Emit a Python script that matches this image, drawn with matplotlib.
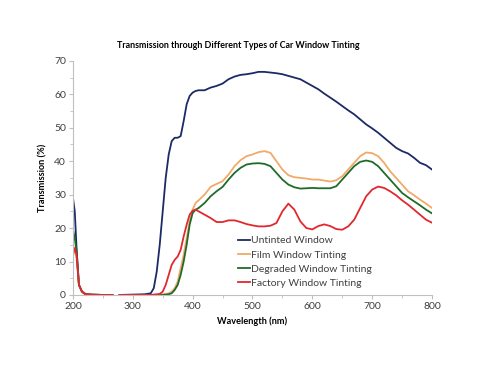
import numpy as np
import matplotlib.pyplot as plt
from matplotlib.ticker import MultipleLocator

plt.rcParams['font.family'] = ['Lato', 'DejaVu Sans']

# wavelength grid (nm); 272 is a gap in the measurement
wavelength = [200, 203, 206, 210, 215, 220, 230, 250, 266, 272, 278, 300, 320, 330,
              335, 340, 345, 350, 355, 360, 365, 370, 375, 380, 385, 390, 395, 400, 405,
              410, 420, 430, 440, 450, 460, 470, 480, 490, 500,
              510, 520, 530, 540, 550, 560, 570, 580, 590, 600,
              610, 620, 630, 640, 650, 660, 670, 680, 690, 700,
              710, 720, 730, 740, 750, 760, 770, 780, 790, 800]

untinted = [29, 25, 14, 3, 1, 0.4, 0.1, 0, 0, np.nan, 0, 0.1, 0.2, 0.5,
            2, 7, 15, 25, 35, 42, 46, 47, 47, 47.5, 52, 57, 59.5, 60.5, 61,
            61.2, 61.2, 62, 62.5, 63.2, 64.5, 65.3, 65.8, 66, 66.3,
            66.7, 66.7, 66.5, 66.3, 66, 65.5, 65, 64.5, 63.5, 62.5,
            61.5, 60.2, 59, 57.8, 56.5, 55.2, 54, 52.5, 51, 49.8,
            48.5, 47, 45.5, 44, 43, 42.3, 41, 39.5, 38.8, 37.5]

film = [15, 13, 11, 3, 1, 0.3, 0.1, 0, 0, np.nan, 0, 0, 0, 0,
        0, 0, 0.1, 0.2, 0.3, 0.5, 1, 2, 4, 8, 12, 17, 22, 25.5, 27.5,
        28.3, 30, 32.3, 33.2, 34, 36, 38.5, 40.3, 41.5, 42,
        42.7, 43, 42.5, 40, 37.5, 35.8, 35.2, 35, 34.8, 34.5,
        34.5, 34.2, 33.9, 34.3, 35.5, 37.5, 39.5, 41.5, 42.6, 42.4,
        41.5, 39.5, 37, 35, 33, 31, 29.8, 28.5, 27.3, 26]

degraded = [19.5, 17, 13, 3, 1, 0.3, 0.1, 0, 0, np.nan, 0, 0, 0, 0,
            0, 0, 0, 0, 0.1, 0.2, 0.5, 1.5, 3, 6, 10, 15, 21, 24.5, 25.5,
            26, 27.5, 29.5, 31, 32.3, 34.5, 36.5, 38, 39, 39.3,
            39.4, 39.2, 38.5, 36.5, 34.5, 33, 32.2, 31.8, 31.9, 32,
            31.9, 31.9, 31.9, 32.5, 34.5, 36.5, 38.5, 39.8, 40.2, 39.8,
            38.5, 36.5, 34.5, 32.5, 30.5, 29.2, 28, 26.8, 25.5, 24.4]

factory = [12, 14, 12, 3, 1, 0.3, 0.1, 0, 0, np.nan, 0, 0, 0, 0,
           0.1, 0.2, 0.3, 1, 3, 6, 9, 10.5, 11.5, 13.5, 17.5, 21, 24, 25.2, 25.5,
           25, 24, 23, 21.8, 21.8, 22.3, 22.3, 21.8, 21.2, 20.8,
           20.5, 20.5, 20.7, 21.5, 25, 27.3, 25.5, 22, 20, 19.6,
           20.6, 21.1, 20.6, 19.7, 19.5, 20.5, 22.5, 26, 29.5, 31.5,
           32.4, 32, 31, 29.8, 28.3, 27, 25.5, 24, 22.5, 21.6]

labels = ["Untinted Window", "Film Window Tinting", "Degraded Window Tinting", "Factory Window Tinting"]
colors = ["#1c2a66", "#f2a96a", "#1f6b2a", "#e2272f"]

fig = plt.figure(figsize=(4.8, 3.71), dpi=100)
ax = fig.add_axes([0.152, 0.205, 0.748, 0.631])

for series, lab, col in zip([untinted, film, degraded, factory], labels, colors):
    ax.plot(wavelength, series, color=col, lw=1.3, label=lab)

ax.set_xlim(200, 800)
ax.set_ylim(0, 70)
ax.xaxis.set_major_locator(MultipleLocator(100))
ax.xaxis.set_minor_locator(MultipleLocator(50))
ax.yaxis.set_major_locator(MultipleLocator(10))
ax.yaxis.set_minor_locator(MultipleLocator(5))

for s in ["top", "right"]:
    ax.spines[s].set_visible(False)
for s in ["left", "bottom"]:
    ax.spines[s].set_color("#bfbfbf")
    ax.spines[s].set_linewidth(0.8)

ax.tick_params(which="major", length=3, color="#bfbfbf", labelsize=7.5, labelcolor="#404040", pad=2)
ax.tick_params(which="minor", length=2, color="#bfbfbf")

ax.set_xlabel("Wavelength (nm)", fontsize=6.6, fontweight="bold", labelpad=4)
ax.set_ylabel("Transmission (%)", fontsize=6.6, fontweight="bold", labelpad=5)
fig.suptitle("Transmission through Different Types of Car Window Tinting",
             fontsize=6.4, fontweight="bold", x=0.497, y=0.89)

ax.legend(loc="upper left", bbox_to_anchor=(0.459, 0.252), frameon=False,
          fontsize=7.5, handlelength=1.15, handletextpad=0.1, labelspacing=0.48,
          borderaxespad=0, borderpad=0, labelcolor="#404040")

fig.savefig("out.png", dpi=100)
